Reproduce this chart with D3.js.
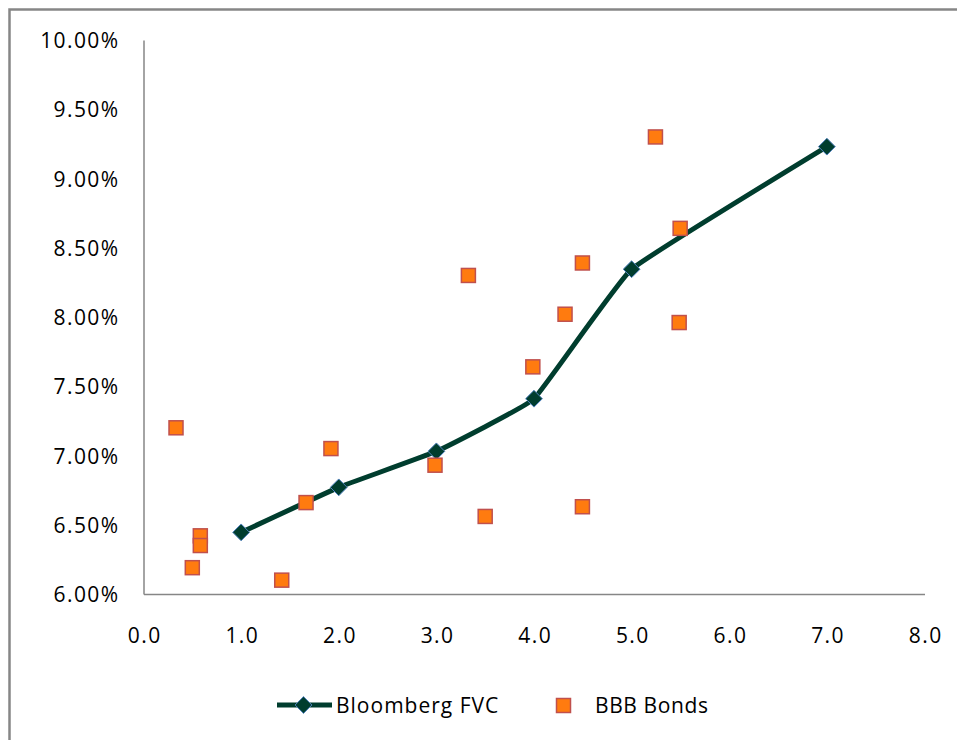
<!DOCTYPE html>
<html><head><meta charset="utf-8">
<script src="https://cdn.jsdelivr.net/npm/d3@7"></script>
<style>body{margin:0;background:#fff;} svg{display:block;}</style>
</head><body>
<svg id="c" width="957" height="740"></svg>
<script>
const xTicks = [0,1,2,3,4,5,6,7,8];
const yTicks = [6.0,6.5,7.0,7.5,8.0,8.5,9.0,9.5,10.0];
const fvcX = [1.0, 2.0, 3.0, 4.0, 5.0, 7.0];
const fvcY = [6.445, 6.77, 7.03, 7.41, 8.345, 9.23];
const bbbX = [0.333, 0.5, 0.582, 0.582, 1.416, 1.665, 1.92, 2.986, 3.328, 3.5, 3.988, 4.318, 4.496, 4.496, 5.244, 5.487, 5.497];
const bbbY = [7.20, 6.19, 6.42, 6.35, 6.10, 6.66, 7.05, 6.93, 8.30, 6.56, 7.64, 8.02, 8.39, 6.63, 9.30, 7.96, 8.64];
const seriesNames = ["Bloomberg FVC", "BBB Bonds"];

const svg = d3.select("#c");
const font = "'Open Sans', sans-serif";
const x = d3.scaleLinear().domain([0,8]).range([143.5, 924.5]);
const y = d3.scaleLinear().domain([6,10]).range([594, 40]);

// outer frame
svg.append("path").attr("d","M9.5,960 V9.5 H960").attr("fill","none").attr("stroke","#868686").attr("stroke-width",2.5);

// axes
const xa = svg.append("g").attr("transform","translate(0,594)")
  .call(d3.axisBottom(x).tickValues(xTicks).tickSize(0).tickPadding(0).tickFormat(d3.format(".1f")));
const ya = svg.append("g").attr("transform","translate(143.5,0)")
  .call(d3.axisLeft(y).tickValues(yTicks).tickSize(0).tickPadding(0).tickFormat(d=>d.toFixed(2)+"%"));
[xa,ya].forEach(a=>{a.select(".domain").attr("stroke","#868686").attr("stroke-width",1.5);
  a.selectAll("text").attr("font-family",font).attr("font-size",21).attr("letter-spacing","1.4px").attr("fill","#000");});
xa.selectAll("text").attr("y",0).attr("dy",0).attr("transform","translate(0.7,49)");
ya.selectAll("text").attr("x",-24).attr("dy","0.36em");

// line
const line = d3.line().x(d=>x(d[0])).y(d=>y(d[1])).curve(d3.curveCardinal.tension(0.72));
const fvc = fvcX.map((v,i)=>[v,fvcY[i]]);
svg.append("path").datum(fvc).attr("d",line).attr("fill","none").attr("stroke","#003D2E").attr("stroke-width",5);
const diamond = d3.symbol().type(d3.symbolDiamond2).size(180);
svg.selectAll(".dm").data(fvc).join("path").attr("class","dm")
  .attr("transform",d=>`translate(${x(d[0])},${y(d[1])})`).attr("d",diamond)
  .attr("fill","#003D2E").attr("stroke","#4F81BD").attr("stroke-width",1);

// squares
const bbb = bbbX.map((v,i)=>[v,bbbY[i]]);
svg.selectAll(".sq").data(bbb).join("rect").attr("class","sq")
  .attr("x",d=>x(d[0])-7).attr("y",d=>y(d[1])-7).attr("width",14).attr("height",14)
  .attr("fill","#FF7B0F").attr("stroke","#C0504D").attr("stroke-width",1.5);

// legend
const lg = svg.append("g");
lg.append("line").attr("x1",277).attr("x2",332).attr("y1",705).attr("y2",705).attr("stroke","#003D2E").attr("stroke-width",5);
lg.append("path").attr("transform","translate(303.5,705)").attr("d",diamond).attr("fill","#003D2E").attr("stroke","#4F81BD").attr("stroke-width",1);
lg.append("text").attr("x",336).attr("y",713).text(seriesNames[0]).attr("font-family",font).attr("font-size",21).attr("letter-spacing","1px");
lg.append("rect").attr("x",556.5).attr("y",698.5).attr("width",14).attr("height",14).attr("fill","#FF7B0F").attr("stroke","#C0504D").attr("stroke-width",1.5);
lg.append("text").attr("x",595).attr("y",713).text(seriesNames[1]).attr("font-family",font).attr("font-size",21).attr("letter-spacing","0.6px");
</script>
</body></html>
